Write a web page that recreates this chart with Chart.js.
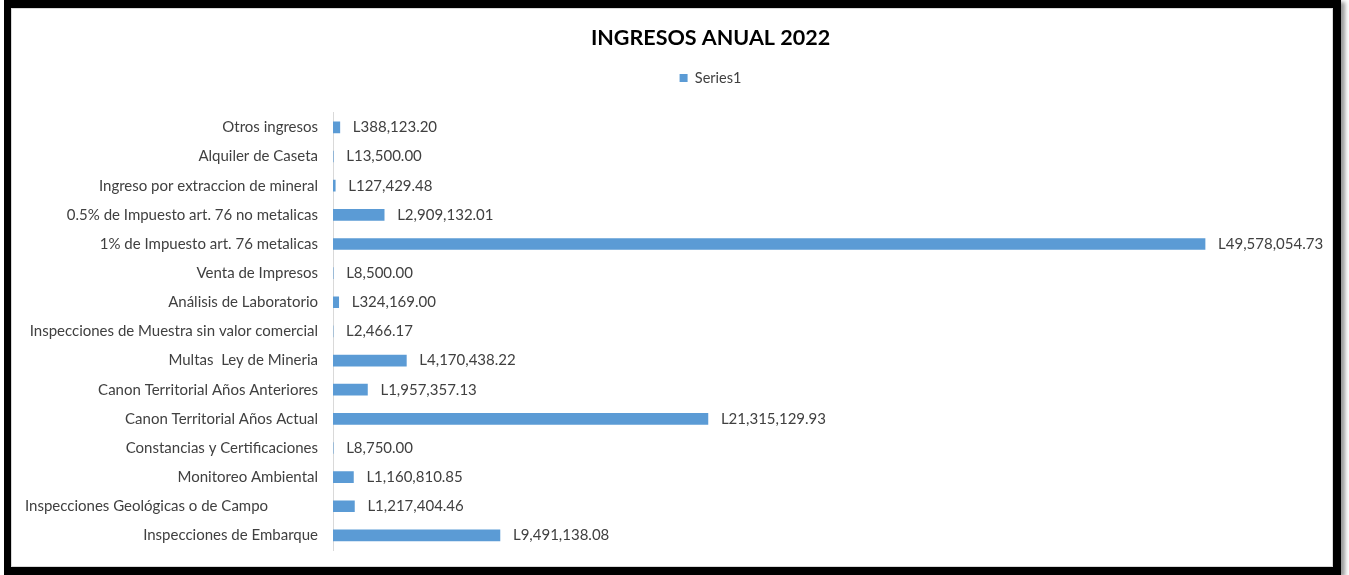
<!DOCTYPE html>
<html>
<head>
<meta charset="utf-8">
<script src="https://cdn.jsdelivr.net/npm/chart.js@4"></script>
<style>
  html, body { margin: 0; padding: 0; background: #fff; }
  #frame {
    position: absolute;
    left: 4px;
    top: 0;
    width: 1322px;
    height: 559px;
    border-style: solid;
    border-color: #000;
    border-width: 8px 8px 8px 7px;
    box-shadow: 4px 2px 4px #999, inset 0 0 0 1px #d9d9d9;
    background: #fff;
  }
  #wrap { position: relative; width: 1322px; height: 559px; }
</style>
</head>
<body>
<div id="frame">
  <div id="wrap"><canvas id="ingresos-chart"></canvas></div>
</div>
<script>
// the "Campo" label carries trailing blanks in the source sheet
const categories = [
  "Otros ingresos",
  "Alquiler de Caseta",
  "Ingreso por extraccion de mineral",
  "0.5% de Impuesto art. 76 no metalicas",
  "1% de Impuesto art. 76 metalicas",
  "Venta de Impresos",
  "Análisis de Laboratorio",
  "Inspecciones de Muestra sin valor comercial",
  "Multas  Ley de Mineria",
  "Canon Territorial Años Anteriores",
  "Canon Territorial Años Actual",
  "Constancias y Certificaciones",
  "Monitoreo Ambiental",
  "Inspecciones Geológicas o de Campo             ",
  "Inspecciones de Embarque"
]

const series1 = [
  388123.20,
  13500.00,
  127429.48,
  2909132.01,
  49578054.73,
  8500.00,
  324169.00,
  2466.17,
  4170438.22,
  1957357.13,
  21315129.93,
  8750.00,
  1160810.85,
  1217404.46,
  9491138.08
]

const fontFamily = "Lato, 'Open Sans', sans-serif"
Chart.defaults.font.family = fontFamily
Chart.defaults.color = "#404040"

const formatLempira = (v) => "L" + v.toLocaleString("en-US", {
  minimumFractionDigits: 2,
  maximumFractionDigits: 2
})

// value labels at the end of each bar
const barLabels = {
  id: "barLabels",
  afterDatasetsDraw(chart) {
    const ctx = chart.ctx
    const meta = chart.getDatasetMeta(0)
    ctx.save()
    ctx.font = "15px " + fontFamily
    ctx.fillStyle = "#404040"
    ctx.textAlign = "left"
    ctx.textBaseline = "middle"
    meta.data.forEach((bar, i) => {
      ctx.fillText(formatLempira(series1[i]), bar.x + 13, bar.y)
    })
    ctx.restore()
  }
}

// extra room below the legend, and title + legend moved a bit right
const headerTweaks = {
  id: "headerTweaks",
  beforeInit(chart) {
    const fit = chart.legend.fit
    chart.legend.fit = function () {
      fit.bind(chart.legend)()
      this.height += 17.5
    }
  },
  afterLayout(chart) {
    [chart.titleBlock, chart.legend].forEach(box => {
      box.left += 46
      box.right += 46
    })
  }
}

const chart = new Chart(document.getElementById("ingresos-chart"), {
  type: "bar",
  data: {
    labels: categories,
    datasets: [{
      label: "Series1",
      data: series1,
      backgroundColor: "#5b9bd5",
      barThickness: 11
    }]
  },
  options: {
    indexAxis: "y",
    responsive: true,
    maintainAspectRatio: false,
    animation: false,
    layout: {
      padding: { left: 0, right: 15, top: 0, bottom: 17 }
    },
    plugins: {
      title: {
        display: true,
        text: "INGRESOS ANUAL 2022",
        color: "#000",
        font: { size: 21.5, weight: "bold" },
        padding: { top: 17, bottom: 10 }
      },
      legend: {
        display: true,
        labels: {
          boxWidth: 8,
          boxHeight: 8,
          padding: 10,
          color: "#404040",
          font: { size: 14.5 }
        }
      },
      tooltip: { enabled: false }
    },
    scales: {
      x: {
        display: false,
        min: 0,
        max: 56000000
      },
      y: {
        afterFit(scale) {
          scale.width = 322
        },
        grid: {
          drawOnChartArea: false,
          drawTicks: true,
          tickLength: 15,
          tickColor: "transparent"
        },
        border: { display: true, color: "#d9d9d9", width: 1 },
        ticks: {
          padding: 0,
          color: "#404040",
          font: { size: 15 }
        }
      }
    }
  },
  plugins: [barLabels, headerTweaks]
})
</script>
</body>
</html>
